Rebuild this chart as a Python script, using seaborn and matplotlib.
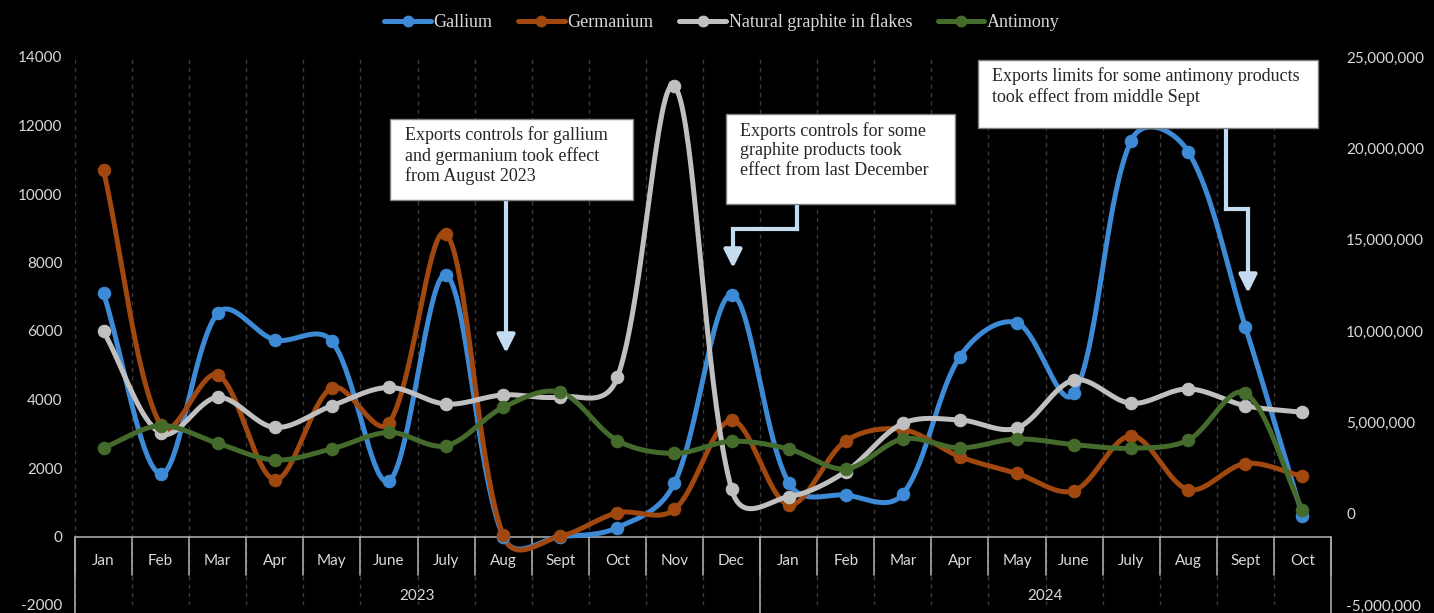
import numpy as np
import pandas as pd
import matplotlib
matplotlib.use("Agg")
import matplotlib.pyplot as plt
import seaborn as sns
from matplotlib.lines import Line2D
from matplotlib.patches import Rectangle
from matplotlib.ticker import FuncFormatter

# ---------------- data ----------------
months = ["Jan", "Feb", "Mar", "Apr", "May", "June", "July", "Aug", "Sept", "Oct", "Nov", "Dec",
          "Jan", "Feb", "Mar", "Apr", "May", "June", "July", "Aug", "Sept", "Oct"]
years = ["2023", "2024"]
year_span = [12, 10]
gallium = [7100, 1830, 6520, 5740, 5700, 1620, 7630, 0, 0, 260, 1560, 7060,
           1570, 1210, 1240, 5250, 6240, 4180, 11560, 11230, 6120, 610]
germanium = [10700, 3250, 4720, 1660, 4340, 3320, 8840, 30, 10, 690, 790, 3390,
             930, 2790, 3120, 2330, 1840, 1340, 2940, 1370, 2130, 1760]
graphite = [9.98e6, 4.40e6, 6.37e6, 4.72e6, 5.91e6, 6.91e6, 6.00e6, 6.50e6, 6.40e6, 7.46e6, 23.4e6, 1.35e6,
            0.93e6, 2.30e6, 4.94e6, 5.13e6, 4.69e6, 7.32e6, 6.04e6, 6.83e6, 5.91e6, 5.55e6]
antimony = [3.60e6, 4.82e6, 3.85e6, 2.94e6, 3.55e6, 4.45e6, 3.72e6, 5.82e6, 6.64e6, 4.00e6, 3.30e6, 3.96e6,
            3.54e6, 2.45e6, 4.09e6, 3.60e6, 4.09e6, 3.78e6, 3.58e6, 4.03e6, 6.59e6, 0.20e6]
series_names = ["Gallium", "Germanium", "Natural graphite in flakes", "Antimony"]
colors = ["#3d8ad6", "#a0480f", "#c0c0c0", "#456b2c"]
notes = [
    "Exports controls for gallium\nand germanium took effect\nfrom August 2023",
    "Exports controls for some\ngraphite products took\neffect from last December",
    "Exports limits for some antimony products\ntook effect from middle Sept",
]

# ---------------- figure ----------------
W, H = 1434, 613
sns.set_theme(style="dark")
plt.rcParams["font.family"] = ["Lato", "DejaVu Sans"]
plt.rcParams["axes.unicode_minus"] = False
fig = plt.figure(figsize=(W / 100, H / 100), dpi=100, facecolor="black")
ax = fig.add_axes([75 / W, (H - 605) / H, (1331 - 75) / W, (605 - 57) / H])
ax.set_facecolor("black")
ax.set_xlim(-0.5, len(months) - 0.5)
ax.set_ylim(-2000, 14000)
ax2 = ax.twinx()
ax2.set_ylim(-5e6, 25e6)
for a in (ax, ax2):
    for s in a.spines.values():
        s.set_visible(False)
    a.grid(False)
    a.set_xticks([])

ax.set_yticks(np.arange(-2000, 14001, 2000))
ax.tick_params(axis="y", length=0, pad=9, labelsize=11, labelcolor="#d9d9d9")
ax2.set_yticks(np.arange(-5e6, 25e6 + 1, 5e6))
ax2.yaxis.set_major_formatter(FuncFormatter(lambda v, p: f"{int(v):,}"))
ax2.tick_params(axis="y", length=0, pad=11, labelsize=11, labelcolor="#d9d9d9")
ax.set_xlabel("")
ax.set_ylabel("")
ax2.set_ylabel("")

x = np.arange(len(months))

# dashed vertical gridlines at category boundaries
for b in np.arange(-0.5, len(months), 1.0):
    ax.axvline(b, color="#3a3a3a", lw=1, ls=(0, (3, 3)), zorder=0)

# category axis (multi-level)
ax.axhline(0, color="#a6a6a6", lw=1.2, zorder=1)
xt = ax.get_xaxis_transform()
y_month_bot = (605 - 575) / 548
y_axis0 = (605 - 537) / 548
for b in np.arange(-0.5, len(months), 1.0):
    ax.plot([b, b], [y_month_bot, y_axis0], transform=xt, color="#a6a6a6", lw=1.2, zorder=1, clip_on=False)
bounds = np.concatenate([[0], np.cumsum(year_span)]) - 0.5
for b in bounds:
    ax.plot([b, b], [-0.02, y_axis0], transform=xt, color="#a6a6a6", lw=1.2, zorder=1, clip_on=False)
for i, m in enumerate(months):
    ax.text(i, (605 - 561) / 548, m, transform=xt, ha="center", va="center",
            fontsize=11, color="#d9d9d9")
for k, yv in enumerate(years):
    ax.text((bounds[k] + bounds[k + 1]) / 2, (605 - 596) / 548, yv, transform=xt,
            ha="center", va="center", fontsize=11, color="#d9d9d9")


def smooth(axis, xs, ys, n=40):
    P = axis.transData.transform(np.column_stack([xs, ys]))
    m = len(P)
    pts = []
    for i in range(m - 1):
        p0 = P[i - 1] if i > 0 else P[i]
        p1, p2 = P[i], P[i + 1]
        p3 = P[i + 2] if i + 2 < m else P[i + 1]
        d01 = np.sqrt(np.hypot(*(p1 - p0)))
        d12 = np.sqrt(np.hypot(*(p2 - p1)))
        d23 = np.sqrt(np.hypot(*(p3 - p2)))
        f1 = d12 / (d01 + d12) if d01 + d12 > 0 else 0
        f2 = d12 / (d12 + d23) if d12 + d23 > 0 else 0
        c1 = p1 + (p2 - p0) * f1 / 3
        c2 = p2 - (p3 - p1) * f2 / 3
        t = np.linspace(0, 1, n)[:, None]
        if i < m - 2:
            t = t[:-1]
        B = (1 - t) ** 3 * p1 + 3 * (1 - t) ** 2 * t * c1 + 3 * (1 - t) * t ** 2 * c2 + t ** 3 * p2
        pts.append(B)
    pts = np.vstack(pts)
    d = axis.transData.inverted().transform(pts)
    return d[:, 0], d[:, 1]


all_series = [gallium, germanium, graphite, antimony]
axes_for = [ax, ax, ax2, ax2]
for vals, col, a in zip(all_series, colors, axes_for):
    sx, sy = smooth(a, x, vals)
    sns.lineplot(x=sx, y=sy, ax=a, sort=False, estimator=None, color=col, lw=3.6, zorder=3)
    sns.scatterplot(x=x, y=vals, ax=a, color=col, s=80, edgecolor=col, linewidth=0.8, zorder=4)
ax.set_xlim(-0.5, len(months) - 0.5)
ax.set_ylim(-2000, 14000)
ax2.set_ylim(-5e6, 25e6)
ax2.set_xticks([])
ax2.set_ylabel("")

# legend
handles = [Line2D([], [], color=c, lw=3.6, marker="o", ms=7.5) for c in colors]
fig.legend(handles, series_names, loc="center", bbox_to_anchor=(722 / W, 1 - 22 / H), ncol=4,
           frameon=False, handlelength=2.6, handletextpad=0.15, columnspacing=1.4,
           prop={"family": "Liberation Serif", "size": 13}, labelcolor="#d9d9d9")


# annotation boxes and arrows
def fp(px, py):
    return (px / W, 1 - py / H)


boxes = [(390, 119, 633, 200), (726, 114, 955, 204), (978, 60, 1318, 128)]
text_pos = [(405, 126), (740, 122), (992, 67)]
for (x0, y0, x1, y1), (tx, ty), note in zip(boxes, text_pos, notes):
    fig.add_artist(Rectangle(fp(x0, y1), (x1 - x0) / W, (y1 - y0) / H, transform=fig.transFigure,
                             facecolor="white", edgecolor="#7f7f7f", lw=1, zorder=10))
    fig.text(*fp(tx, ty), note, ha="left", va="top", fontsize=13, color="#262626",
             family="Liberation Serif", linespacing=1.2, zorder=11)

arrow_col = "#c5dbf0"
arrows = [
    [(506, 200), (506, 353)],
    [(797, 204), (797, 229), (733, 229), (733, 268)],
    [(1226, 128), (1226, 209), (1248, 209), (1248, 293)],
]
for path in arrows:
    for (xa, ya), (xb, yb) in zip(path[:-2], path[1:-1]):
        fig.add_artist(Line2D([xa / W, xb / W], [1 - ya / H, 1 - yb / H], transform=fig.transFigure,
                              color=arrow_col, lw=3, zorder=9, solid_capstyle="projecting"))
    ax.annotate("", xy=fp(*path[-1]), xytext=fp(*path[-2]), xycoords="figure fraction",
                textcoords="figure fraction",
                arrowprops=dict(arrowstyle="-|>,head_width=0.45,head_length=0.9", color=arrow_col,
                                lw=3, shrinkA=0, shrinkB=0), zorder=9)

fig.savefig("out.png", dpi=100, facecolor="black")
